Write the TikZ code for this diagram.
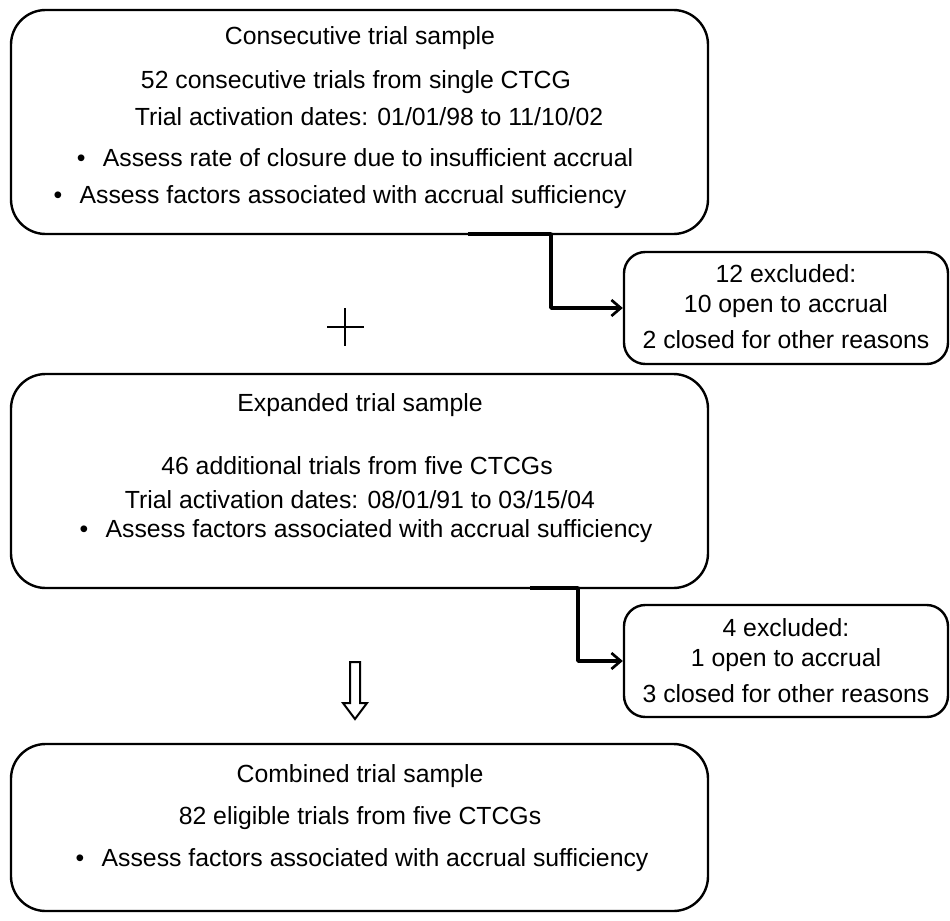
\documentclass[tikz,border=0pt]{standalone}
\usepackage{fontspec}
\setmainfont{Liberation Sans}
\usetikzlibrary{arrows.meta}

\tikzset{
  trialbox/.style={draw, line width=1.8pt, rounded corners=26pt, minimum width=697*0.75pt, inner sep=0pt},
  exbox/.style={draw, line width=1.8pt, rounded corners=16pt, minimum width=324*0.75pt, minimum height=112*0.75pt, inner sep=0pt},
  txt/.style={inner sep=0pt, font=\fontsize{18.6}{22}\selectfont},
  conn/.style={line width=2.6pt, line cap=round, line join=round, -{Straight Barb[length=7pt,width=12pt,line width=2pt]}}
}
\newcommand{\bul}{\textbullet\hspace{0.7em}}

\begin{document}
\begin{tikzpicture}[x=0.75pt,y=0.75pt,yscale=-1,xscale=1]
        \path[use as bounding box] (0,0) rectangle (950,921);
        % sample boxes
        \node [trialbox, minimum height=224*0.75pt] (consec) at (359.5,122) {};
        \node [trialbox, minimum height=214*0.75pt] (expand) at (359.5,481) {};
        \node [trialbox, minimum height=167*0.75pt] (combined) at (359.5,827.5) {};
        % exclusion boxes
        \node [exbox] (excl1) at (786,308) {};
        \node [exbox] (excl2) at (786,661) {};
        % texts
        \draw (360,38) node [txt] (t11) {Consecutive trial sample};
        \draw (356,82) node [txt] (t12) {52 consecutive trials from single CTCG};
        \draw (369,117) node [txt] (t13) {Trial activation dates: 01/01/98 to 11/10/02};
        \draw (355,158) node [txt] (t14) {\bul Assess rate of closure due to insufficient accrual};
        \draw (340,197) node [txt] (t15) {\bul Assess factors associated with accrual sufficiency};
        \draw (786,274) node [txt] (e11) {12 excluded:};
        \draw (786,306) node [txt] (e12) {10 open to accrual};
        \draw (786,340) node [txt] (e13) {2 closed for other reasons};
        \draw (360,405) node [txt] (t21) {Expanded trial sample};
        \draw (357,466) node [txt] (t22) {46 additional trials from five CTCGs};
        \draw (360,500) node [txt] (t23) {Trial activation dates: 08/01/91 to 03/15/04};
        \draw (366,531) node [txt] (t24) {\bul Assess factors associated with accrual sufficiency};
        \draw (786,628) node [txt] (e21) {4 excluded:};
        \draw (786,660) node [txt] (e22) {1 open to accrual};
        \draw (786,694) node [txt] (e23) {3 closed for other reasons};
        \draw (360,776) node [txt] (t31) {Combined trial sample};
        \draw (360,818) node [txt] (t32) {82 eligible trials from five CTCGs};
        \draw (362,860) node [txt] (t33) {\bul Assess factors associated with accrual sufficiency};
        % connectors to the exclusions
        \coordinate (k1) at (551,234);
        \draw [line width=2.6pt] (468,234) -- (k1);
        \draw [conn] (k1) |- (excl1.west);
        \coordinate (k2) at (578,588);
        \draw [line width=2.6pt] (530,588) -- (k2);
        \draw [conn] (k2) |- (excl2.west);
        % plus sign
        \draw [line width=1.5pt] (327,327) -- (364,327) (345,308) -- (345,346);
        % hollow down arrow
        \draw [line width=1.5pt, line join=miter] (350,662) -- (360,662) -- (360,703) -- (367,703) -- (355,719) -- (343,703) -- (350,703) -- cycle;
        \end{tikzpicture}
\end{document}
